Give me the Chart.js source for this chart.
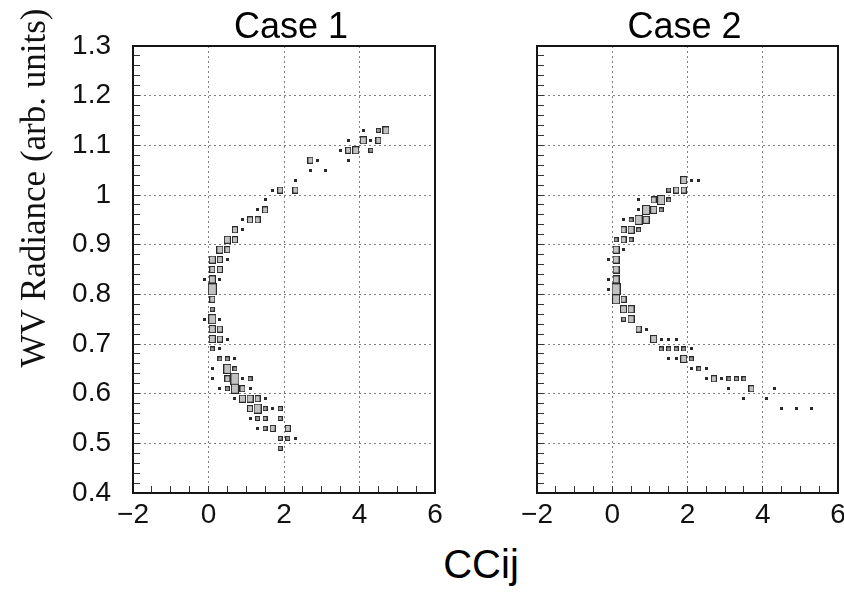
<!DOCTYPE html>
<html><head><meta charset="utf-8">
<script src="https://cdn.jsdelivr.net/npm/chart.js@4.4.1/dist/chart.umd.min.js"></script>
<style>
html,body{margin:0;padding:0;background:#fff;}
body{width:844px;height:596px;position:relative;overflow:hidden;}
canvas{position:absolute;top:0;}
#c1{left:0;} #c2{left:500px;}
#ytitle{position:absolute;left:-166px;top:168px;width:400px;height:40px;line-height:40px;text-align:center;font-family:'Liberation Serif','Times New Roman',serif;font-size:35px;color:#111;transform:rotate(-90deg);white-space:nowrap;}
#xtitle{position:absolute;left:381px;top:544px;width:200px;line-height:40px;text-align:center;font-family:'Liberation Sans',Arial,sans-serif;font-size:40px;color:#000;}
</style></head>
<body>
<canvas id="c1" width="582" height="540"></canvas>
<canvas id="c2" width="344" height="540"></canvas>
<div id="ytitle">WV Radiance (arb. units)</div>
<div id="xtitle">CCij</div>
<script>
// ---- tick labels ----
const xTickValues = [-2, 0, 2, 4, 6];
const xTickLabels = ['\u22122', '0', '2', '4', '6'];
const yTickValues = [0.4, 0.5, 0.6, 0.7, 0.8, 0.9, 1.0, 1.1, 1.2, 1.3];
const yTickLabels = ['0.4', '0.5', '0.6', '0.7', '0.8', '0.9', '1', '1.1', '1.2', '1.3'];
const panelTitles = ['Case 1', 'Case 2'];

// ---- Case 1: bin centres (CCij, radiance) and relative bin content ----
const case1X = [
  4.1, 4.5, 4.7,
  3.7, 4.1, 4.3, 4.5,
  3.5, 3.7, 3.9, 4.3,
  2.7, 2.9, 3.7,
  2.7, 3.1,
  2.3,
  1.7, 1.9, 2.3,
  1.5,
  1.3, 1.5,
  0.9, 1.1, 1.3,
  0.7, 0.9,
  0.5, 0.7,
  0.3, 0.5,
  0.1, 0.3, 0.5,
  0.1, 0.3,
  -0.1, 0.1, 0.3,
  0.1,
  0.1,
  0.1,
  -0.1, 0.1, 0.3,
  0.1, 0.3,
  0.1, 0.3, 0.5,
  0.1, 0.3,
  0.3, 0.5, 0.7,
  0.1, 0.5, 0.7,
  0.1, 0.5, 0.7, 0.9, 1.1,
  0.3, 0.5, 0.7, 0.9, 1.1,
  0.7, 0.9, 1.1, 1.3, 1.5,
  1.1, 1.3, 1.5, 1.7, 1.9,
  1.1, 1.3, 1.5, 1.9,
  1.3, 1.5, 1.7, 2.1,
  1.9, 2.1, 2.3,
  1.9
];
const case1Y = [
  1.13, 1.13, 1.13,
  1.11, 1.11, 1.11, 1.11,
  1.09, 1.09, 1.09, 1.09,
  1.07, 1.07, 1.07,
  1.05, 1.05,
  1.03,
  1.01, 1.01, 1.01,
  0.99,
  0.97, 0.97,
  0.95, 0.95, 0.95,
  0.93, 0.93,
  0.91, 0.91,
  0.89, 0.89,
  0.87, 0.87, 0.87,
  0.85, 0.85,
  0.83, 0.83, 0.83,
  0.81,
  0.79,
  0.77,
  0.75, 0.75, 0.75,
  0.73, 0.73,
  0.71, 0.71, 0.71,
  0.69, 0.69,
  0.67, 0.67, 0.67,
  0.65, 0.65, 0.65,
  0.63, 0.63, 0.63, 0.63, 0.63,
  0.61, 0.61, 0.61, 0.61, 0.61,
  0.59, 0.59, 0.59, 0.59, 0.59,
  0.57, 0.57, 0.57, 0.57, 0.57,
  0.55, 0.55, 0.55, 0.55,
  0.53, 0.53, 0.53, 0.53,
  0.51, 0.51, 0.51,
  0.49
];
const case1N = [
  1, 2, 4,
  1, 4, 1, 3,
  1, 3, 4, 2,
  3, 1, 1,
  1, 1,
  1,
  1, 3, 3,
  1,
  1, 3,
  1, 3, 3,
  3, 1,
  4, 3,
  4, 3,
  4, 3, 1,
  3, 3,
  1, 4, 1,
  6,
  3,
  2,
  1, 5, 1,
  4, 3,
  4, 3, 1,
  2, 1,
  2, 2, 1,
  1, 5, 2,
  1, 3, 6, 1, 2,
  1, 2, 5, 3, 1,
  1, 4, 4, 3, 1,
  3, 5, 2, 1, 2,
  1, 2, 2, 2,
  1, 2, 3, 3,
  2, 2, 1,
  2
];

// ---- Case 2 ----
const case2X = [
  1.9, 2.1, 2.3,
  1.5, 1.7, 1.9,
  0.7, 1.1, 1.3, 1.5,
  0.7, 0.9, 1.1, 1.3,
  0.3, 0.5, 0.7, 0.9,
  0.3, 0.5, 0.7,
  0.1, 0.3, 0.5,
  0.1, 0.3,
  -0.1, 0.1,
  0.1,
  -0.1, 0.1,
  -0.1, 0.1,
  0.1, 0.3,
  0.3, 0.5,
  0.3, 0.5,
  0.7, 0.9,
  1.1, 1.3, 1.5, 1.7,
  1.3, 1.5, 1.7, 1.9, 2.1,
  1.5, 1.7, 1.9, 2.1,
  2.1, 2.3, 2.5,
  2.5, 2.7, 2.9, 3.1, 3.3, 3.5,
  3.1, 3.7, 4.3,
  3.5, 4.1,
  4.5, 4.9, 5.3
];
const case2Y = [
  1.03, 1.03, 1.03,
  1.01, 1.01, 1.01,
  0.99, 0.99, 0.99, 0.99,
  0.97, 0.97, 0.97, 0.97,
  0.95, 0.95, 0.95, 0.95,
  0.93, 0.93, 0.93,
  0.91, 0.91, 0.91,
  0.89, 0.89,
  0.87, 0.87,
  0.85,
  0.83, 0.83,
  0.81, 0.81,
  0.79, 0.79,
  0.77, 0.77,
  0.75, 0.75,
  0.73, 0.73,
  0.71, 0.71, 0.71, 0.71,
  0.69, 0.69, 0.69, 0.69, 0.69,
  0.67, 0.67, 0.67, 0.67,
  0.65, 0.65, 0.65,
  0.63, 0.63, 0.63, 0.63, 0.63, 0.63,
  0.61, 0.61, 0.61,
  0.59, 0.59,
  0.57, 0.57, 0.57
];
const case2N = [
  4, 1, 1,
  2, 3, 3,
  1, 3, 5, 2,
  1, 5, 4, 2,
  1, 2, 5, 4,
  3, 4, 2,
  2, 3, 2,
  4, 1,
  1, 4,
  4,
  1, 4,
  1, 6,
  5, 3,
  4, 4,
  2, 4,
  3, 1,
  4, 1, 1, 1,
  2, 2, 2, 2, 1,
  1, 1, 4, 2,
  1, 2, 1,
  1, 3, 1, 2, 2, 2,
  1, 3, 1,
  1, 1,
  1, 1, 1
];

// ---- box markers (ROOT "BOX" style) ----
const boxDims = {1: [3, 3], 2: [5, 5], 3: [6, 7], 4: [7, 8], 5: [8, 10], 6: [9, 12]};
const boxStyles = {};
Object.keys(boxDims).forEach(k => {
  const [w, h] = boxDims[k];
  const c = document.createElement('canvas');
  c.width = w; c.height = h;
  const g = c.getContext('2d');
  g.fillStyle = '#2a2a2a';
  g.fillRect(0, 0, w, h);
  if (+k > 1) {
    g.fillStyle = +k >= 3 ? '#c2c2c2' : '#9c9c9c';
    g.fillRect(1, 1, w - 2, h - 2);
  }
  boxStyles[k] = c;
});

const near = (a, b) => Math.abs(a - b) < 1e-6;
const majorX = v => xTickValues.some(t => near(t, v));
const majorY = v => yTickValues.some(t => near(t, v));
const FRAME = '#151515';
const GRID = '#808080';
const TICKC = '#333';
const tickFont = {family: "'Liberation Sans', Arial, sans-serif", size: 28};

function panel(id, idx, xs, ys, ns, o) {
  const pts = xs.map((x, i) => ({x: x, y: ys[i], n: ns[i]}));
  return new Chart(document.getElementById(id), {
    type: 'scatter',
    data: {datasets: [{
      data: pts,
      pointStyle: c => (c.raw ? boxStyles[c.raw.n] : 'rect'),
      pointRadius: 5, pointHoverRadius: 5, borderWidth: 0
    }]},
    options: {
      responsive: false, animation: false, events: [], devicePixelRatio: 1,
      layout: {padding: {left: o.padL, right: 0, top: 0, bottom: 0}},
      plugins: {
        legend: {display: false}, tooltip: {enabled: false},
        title: {display: true, text: panelTitles[idx], color: '#000', fullSize: true,
          font: {family: "'Liberation Sans', Arial, sans-serif", size: 36, weight: 'normal', lineHeight: 1},
          padding: {top: 10, bottom: 0}}
      },
      scales: {
        x: {
          type: 'linear', position: 'bottom', min: -2, max: 6,
          ticks: {stepSize: 0.5, autoSkip: false, maxRotation: 0, maxTicksLimit: 200,
            color: '#111', font: tickFont, padding: 12,
            callback: v => { const i = xTickValues.findIndex(t => near(t, v)); return i >= 0 ? xTickLabels[i] : ''; }},
          grid: {
            color: c => (c.tick && majorX(c.tick.value) && !near(c.tick.value, -2) && !near(c.tick.value, 6)) ? GRID : 'rgba(0,0,0,0)',
            lineWidth: 1, tickLength: -7, tickColor: TICKC, tickWidth: 1
          },
          border: {display: true, color: FRAME, width: 2, dash: [2, 3]},
          afterFit: s => { s.height = 47; s.paddingLeft = 0; s.paddingRight = 0; }
        },
        y: {
          type: 'linear', position: 'left', min: 0.4, max: 1.3,
          ticks: {stepSize: 0.02, autoSkip: false, maxTicksLimit: 200,
            color: '#111', font: tickFont, padding: 29,
            callback: v => { if (!o.yLabels) return ''; const i = yTickValues.findIndex(t => near(t, v)); return i >= 0 ? yTickLabels[i] : ''; }},
          grid: {
            color: c => (c.tick && majorY(c.tick.value) && !near(c.tick.value, 0.4) && !near(c.tick.value, 1.3)) ? GRID : 'rgba(0,0,0,0)',
            lineWidth: 1, tickLength: -7, tickColor: TICKC, tickWidth: 1
          },
          border: {display: true, color: FRAME, width: 2, dash: [2, 3]},
          afterFit: s => { s.width = o.yWidth; s.paddingTop = 0; s.paddingBottom = 0; }
        },
        x2: {
          type: 'linear', position: 'top', display: true,
          ticks: {display: false},
          grid: {display: true, drawOnChartArea: false, drawTicks: false},
          border: {display: true, color: FRAME, width: 2},
          afterFit: s => { s.height = 0; s.paddingLeft = 0; s.paddingRight = 0; }
        },
        y2: {
          type: 'linear', position: 'right', display: true,
          ticks: {display: false},
          grid: {display: true, drawOnChartArea: false, drawTicks: false},
          border: {display: true, color: FRAME, width: 2},
          afterFit: s => { s.width = o.y2Width; s.paddingTop = 0; s.paddingBottom = 0; }
        }
      }
    }
  });
}

panel('c1', 0, case1X, case1Y, case1N, {padL: 0, yWidth: 133, y2Width: 147, yLabels: true});
panel('c2', 1, case2X, case2Y, case2N, {padL: 25, yWidth: 12, y2Width: 6, yLabels: false});
</script>
</body></html>
